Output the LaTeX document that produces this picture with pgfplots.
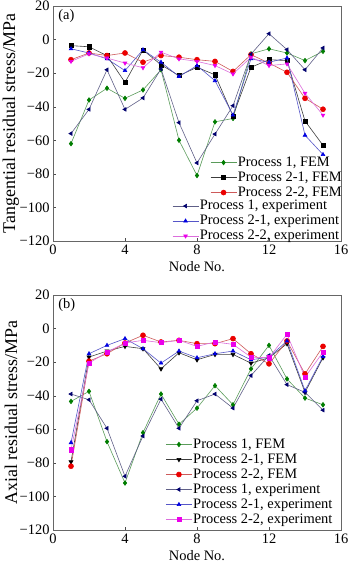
\documentclass[border=0pt]{standalone}
\usepackage{fontspec}
\setmainfont{Liberation Serif}
\usepackage{pgfplots}
\pgfplotsset{compat=1.18}
\usepackage{pgfplotstable}

\definecolor{mkGreen}{RGB}{0,125,0}
\definecolor{lnGreen}{RGB}{90,155,90}
\definecolor{mkBlack}{RGB}{0,0,0}
\definecolor{lnBlack}{RGB}{60,60,60}
\definecolor{mkRed}{RGB}{235,0,0}
\definecolor{lnRed}{RGB}{205,90,90}
\definecolor{mkNavy}{RGB}{0,0,110}
\definecolor{lnNavy}{RGB}{95,95,135}
\definecolor{mkBlue}{RGB}{0,0,225}
\definecolor{lnBlue}{RGB}{85,85,200}
\definecolor{mkMag}{RGB}{235,0,235}
\definecolor{lnMag}{RGB}{220,110,220}

% n  P1FEM  P21FEM  P22FEM  P1exp  P21exp  P22exp
\pgfplotstableread{
n  a      b      c      d      e      f
1  -62    -3.6   -12    -56    -5.5   -13
2  -36    -4.3   -8     -41.6  -8     -8.5
3  -29    -9.6   -9.5   -18    -11.5  -11
4  -35    -25.5  -8     -41.6  -18.5  -14
5  -30    -6.2   -13.5  -34.8  -6.1   -16.8
6  -18    -15    -9.5   -17.5  -13.5  -7.5
7  -60    -21.5  -10.5  -49.5  -22    -11.5
8  -81    -16.5  -12    -73.5  -15.5  -13
9  -49    -21    -13    -56.3  -24.5  -15.5
10 -47    -45.5  -19    -39.4  -45    -20.5
11 -8.5   -16.5  -9     -8.7   -11.5  -10.5
12 -5.5   -12    -14    3.5    -13.5  -15.5
13 -8     -12.5  -19.5  -6     -11    -14.5
14 -12.5  -48.5  -35    -18    -57    -32
15 -7     -63    -41.5  -5     -68.5  -45
}\topdata

\pgfplotstableread{
n  a      b      c      d      e      f
1  -43.4  -79.4  -82    -39    -68    -72.2
2  -37.4  -17    -19.4  -42.4  -15    -20.6
3  -67.4  -13.4  -15    -59.4  -10    -14
4  -92    -10.6  -8.6   -88    -6     -8.6
5  -62    -12    -4     -64    -12    -7
6  -39    -24    -8     -42    -20.6  -8.4
7  -57    -14.4  -7     -59.4  -13.4  -7
8  -47.4  -18.6  -9     -43    -17.4  -10.6
9  -34    -15.4  -9     -39    -15    -8
10 -45.4  -15.4  -6     -47.4  -13.4  -9.4
11 -24    -20.6  -15    -28    -18.6  -17
12 -10    -17.4  -21    -16    -17    -17.4
13 -30    -9     -7.4   -33.4  -7.4   -3.4
14 -41.4  -38    -27    -38    -37    -29
15 -45.4  -17.4  -10.6  -48.6  -16.6  -14
}\botdata

\newcommand{\fs}{\fontsize{14.5}{17}\selectfont}
\newcommand{\fl}{\fontsize{18}{21}\selectfont}

\pgfplotsset{
  base/.style={
    scale only axis, width=288bp, height=235bp,
    xmin=0, xmax=16, ymin=-120, ymax=20,
    xtick={0,4,8,12,16},
    ytick={-120,-100,-80,-60,-40,-20,0,20},
    yticklabels={−120,−100,−80,−60,−40,−20,0,20},
    tick align=inside, xtick pos=bottom, ytick pos=left,
    major tick length=3bp,
    axis line style={black!60}, tick style={black!70},
    /pgf/number format/assume math mode=true,
    tick label style={font=\fs},
    x label style={font=\fs},
    y label style={font=\fl, at={(axis description cs:-0.146,0.5)}, anchor=center},
    legend image code/.code={\draw[mark repeat=2,mark phase=2,##1] plot coordinates {(0bp,0bp)(13bp,0bp)(26bp,0bp)};},
    legend cell align=left,
  },
  lg/.style={legend style={draw=none, fill=none, font=\fs,
    nodes={inner sep=1bp, text height=10bp, text depth=3bp},
    /tikz/every even column/.append style={column sep=0bp}}},
  sGreen/.style={color=lnGreen, line width=0.6pt, mark=diamond*, mark size=2.3pt, mark options={draw=mkGreen, fill=mkGreen}},
  sBlack/.style={color=lnBlack, line width=0.6pt, mark=square*, mark size=2.1pt, mark options={draw=mkBlack, fill=mkBlack}},
  sBlackT/.style={color=lnBlack, line width=0.6pt, mark=triangle*, mark size=2.3pt, mark options={draw=mkBlack, fill=mkBlack, rotate=180}},
  sRed/.style={color=lnRed, line width=0.6pt, mark=*, mark size=2.5pt, mark options={draw=mkRed, fill=mkRed}},
  sNavy/.style={color=lnNavy, line width=0.6pt, mark=triangle*, mark size=2.1pt, mark options={draw=mkNavy, fill=mkNavy, rotate=90}},
  sBlue/.style={color=lnBlue, line width=0.6pt, mark=triangle*, mark size=2.1pt, mark options={draw=mkBlue, fill=mkBlue}},
  sMag/.style={color=lnMag, line width=0.6pt, mark=triangle*, mark size=2.1pt, mark options={draw=mkMag, fill=mkMag, rotate=180}},
  sMagS/.style={color=lnMag, line width=0.6pt, mark=square*, mark size=2.1pt, mark options={draw=mkMag, fill=mkMag}},
}

\begin{document}
\begin{tikzpicture}
\path[use as bounding box] (0,0) rectangle (350bp,565bp);

% ---------- top panel (a) ----------
\begin{axis}[base, lg, at={(53bp,324bp)}, anchor=south west,
  xlabel={Node No.}, ylabel={Tangential residual stress/MPa},
  legend style={at={(rel axis cs:0.535,0.375)}, anchor=north west}]
\addplot[sGreen] table[x=n,y=a] {\topdata};
\addlegendentry{Process 1, FEM}
\addplot[sBlack] table[x=n,y=b] {\topdata};
\addlegendentry{Process 2-1, FEM}
\addplot[sRed] table[x=n,y=c] {\topdata};
\addlegendentry{Process 2-2, FEM}
\node[anchor=north west, inner sep=0pt, font=\fs] at (rel axis cs:0.018,0.985) {(a)};
\end{axis}
\begin{axis}[base, lg, at={(53bp,324bp)}, anchor=south west, hide axis,
  legend style={at={(rel axis cs:0.403,0.19)}, anchor=north west}]
\addplot[sNavy] table[x=n,y=d] {\topdata};
\addlegendentry{Process 1, experiment}
\addplot[sBlue] table[x=n,y=e] {\topdata};
\addlegendentry{Process 2-1, experiment}
\addplot[sMag] table[x=n,y=f] {\topdata};
\addlegendentry{Process 2-2, experiment}
\end{axis}

% ---------- bottom panel (b) ----------
\begin{axis}[base, lg, at={(53bp,35bp)}, anchor=south west,
  xlabel={Node No.}, ylabel={Axial residual stress/MPa},
  legend style={at={(rel axis cs:0.38,0.405)}, anchor=north west}]
\addplot[sGreen] table[x=n,y=a] {\botdata};
\addlegendentry{Process 1, FEM}
\addplot[sBlackT] table[x=n,y=b] {\botdata};
\addlegendentry{Process 2-1, FEM}
\addplot[sRed] table[x=n,y=c] {\botdata};
\addlegendentry{Process 2-2, FEM}
\addplot[sNavy] table[x=n,y=d] {\botdata};
\addlegendentry{Process 1, experiment}
\addplot[sBlue] table[x=n,y=e] {\botdata};
\addlegendentry{Process 2-1, experiment}
\addplot[sMagS] table[x=n,y=f] {\botdata};
\addlegendentry{Process 2-2, experiment}
\node[anchor=north west, inner sep=0pt, font=\fs] at (rel axis cs:0.018,0.985) {(b)};
\end{axis}
\end{tikzpicture}
\end{document}
